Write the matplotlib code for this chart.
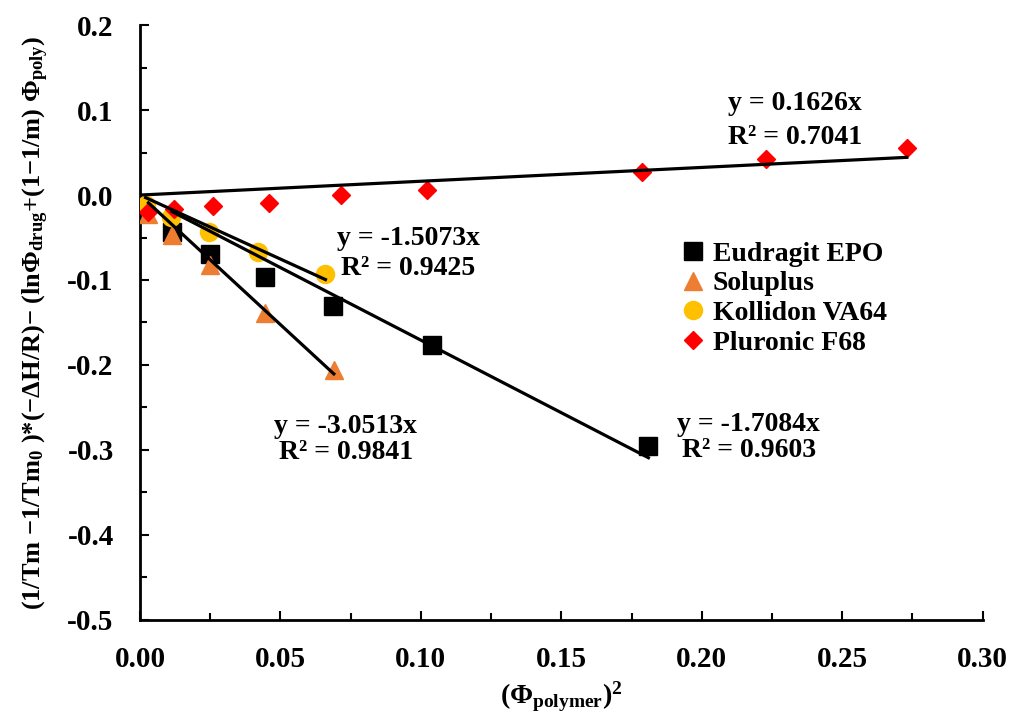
import numpy as np
import matplotlib
matplotlib.use("Agg")
import matplotlib.pyplot as plt
from matplotlib.ticker import MultipleLocator, FormatStrFormatter

plt.rcParams['font.family'] = 'Liberation Serif'
plt.rcParams['font.weight'] = 'bold'
plt.rcParams['mathtext.fontset'] = 'custom'
plt.rcParams['mathtext.rm'] = 'Liberation Serif:bold'
plt.rcParams['mathtext.it'] = 'Liberation Serif:bold'
plt.rcParams['mathtext.bf'] = 'Liberation Serif:bold'

# data
eud_x = [0.0114, 0.025, 0.0445, 0.0687, 0.104, 0.181]
eud_y = [-0.0435, -0.069, -0.096, -0.131, -0.176, -0.296]
sol_x = [0.003, 0.0114, 0.025, 0.0445, 0.069]
sol_y = [-0.022, -0.047, -0.082, -0.139, -0.206]
kol_x = [0.002, 0.011, 0.0245, 0.042, 0.066]
kol_y = [-0.012, -0.026, -0.044, -0.067, -0.093]
plu_x = [0.003, 0.012, 0.026, 0.046, 0.0715, 0.102, 0.1786, 0.223, 0.273]
plu_y = [-0.020, -0.0165, -0.013, -0.009, 0.0, 0.006, 0.027, 0.042, 0.055]

# trendline slopes (intercept 0) and R^2 from the chart
slopes = {'eud': -1.7084, 'sol': -3.0513, 'kol': -1.5073, 'plu': 0.1626}
r2 = {'eud': 0.9603, 'sol': 0.9841, 'kol': 0.9425, 'plu': 0.7041}

fig = plt.figure(figsize=(10.11, 7.19), dpi=100)
ax = fig.add_axes([0.1385, 0.138, 0.8335, 0.827])

ms = 13
ax.plot(eud_x, eud_y, 's', color='black', ms=ms, label='Eudragit EPO', zorder=3)
ax.plot(sol_x, sol_y, '^', color='#ED7D31', ms=ms, label='Soluplus', zorder=3)
ax.plot(kol_x, kol_y, 'o', color='#FFC000', ms=ms, label='Kollidon VA64', zorder=3)
ax.plot(plu_x, plu_y, 'D', color='#FF0000', ms=9.5, label='Pluronic F68', zorder=3)

for key, xs in [('eud', eud_x), ('sol', sol_x), ('kol', kol_x), ('plu', plu_x)]:
    x0 = 0.0 if key == 'plu' else min(xs)
    xx = np.array([x0, max(xs)])
    ax.plot(xx, slopes[key] * xx, color='black', lw=2.3, zorder=4)

fs = 20
def eq_label(key, x, y1, y2):
    ax.text(x, y1, f"y = {slopes[key]:.4f}x", ha='center', va='center', fontsize=fs, fontweight='bold')
    ax.text(x, y2, f"R² = {r2[key]:.4f}", ha='center', va='center', fontsize=fs, fontweight='bold')

eq_label('plu', 0.2331, 0.108, 0.068)
eq_label('kol', 0.0954, -0.0506, -0.086)
eq_label('sol', 0.0733, -0.273, -0.3035)
eq_label('eud', 0.2167, -0.2706, -0.301)

ax.set_xlim(0, 0.30)
ax.set_ylim(-0.5, 0.2)
ax.xaxis.set_major_locator(MultipleLocator(0.05))
ax.xaxis.set_minor_locator(MultipleLocator(0.025))
ax.yaxis.set_major_locator(MultipleLocator(0.1))
ax.yaxis.set_minor_locator(MultipleLocator(0.05))
ax.xaxis.set_major_formatter(FormatStrFormatter('%.2f'))
ax.yaxis.set_major_formatter(FormatStrFormatter('%.1f'))
ax.tick_params(which='both', direction='in', width=1.5, labelsize=21)
ax.tick_params(which='major', length=6.5)
ax.tick_params(which='minor', length=5)
ax.tick_params(axis='x', which='both', pad=19)
ax.tick_params(axis='y', which='both', pad=19)
for lab in ax.get_xticklabels() + ax.get_yticklabels():
    lab.set_fontweight('bold')

ax.spines['top'].set_visible(False)
ax.spines['right'].set_visible(False)
ax.spines['left'].set_linewidth(2)
ax.spines['bottom'].set_linewidth(2)

ax.set_xlabel(r"($\Phi_{\mathrm{polymer}}$)$^{2}$", fontsize=fs, fontweight='bold', labelpad=5)
ax.set_ylabel(r"(1/Tm −1/Tm$_{0}$ )*(−ΔH/R)− (lnΦ$_{\mathrm{drug}}$+(1−1/m) Φ$_{\mathrm{poly}}$)",
              fontsize=19, fontweight='bold', labelpad=12)

leg = ax.legend(loc='upper left', bbox_to_anchor=(0.63, 0.655), frameon=False, fontsize=fs,
                handlelength=0.8, handletextpad=0.3, labelspacing=0.15, borderaxespad=0)
for t in leg.get_texts():
    t.set_fontweight('bold')

fig.savefig('out.png', dpi=100)
